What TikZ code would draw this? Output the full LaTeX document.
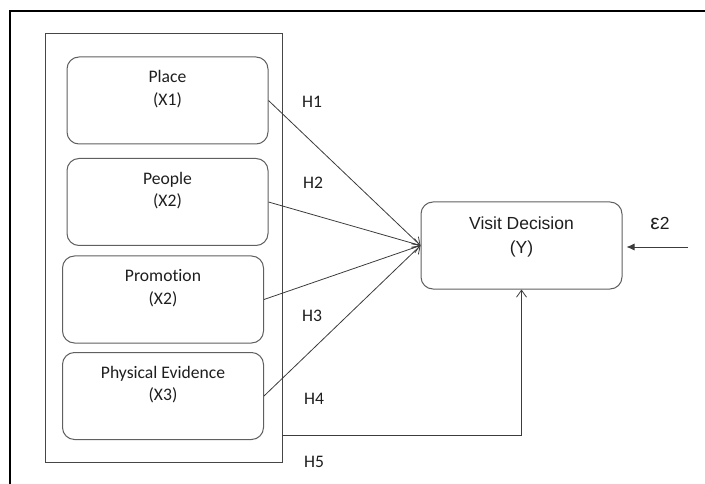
\documentclass[tikz,border=0pt]{standalone}
\usepackage{fontspec}
\setmainfont{Carlito}[Ligatures=NoCommon]
\newfontfamily\arialfont{Liberation Sans}
\usepackage{xcolor}
\definecolor{boxgray}{RGB}{96,96,96}
\definecolor{framegray}{RGB}{70,70,70}
\definecolor{linegray}{RGB}{60,60,60}
\definecolor{textgray}{RGB}{30,30,30}
\usetikzlibrary{arrows.meta,positioning}

\begin{document}
\begin{tikzpicture}[x=1pt, y=-1pt,
    varbox/.style={draw=boxgray, line width=1pt, rounded corners=12pt, minimum width=201pt, minimum height=87pt},
    boxtext/.style={anchor=north, align=center, inner sep=0pt, text=textgray, font=\fontsize{17.6}{22.5}\selectfont},
    vdtext/.style={anchor=north, align=center, inner sep=0pt, text=textgray, font=\arialfont\fontsize{17.5}{24}\selectfont},
    link/.style={-{Straight Barb[length=7pt,width=10pt]}, draw=linegray, line width=0.8pt},
    errlink/.style={-{Latex[length=8pt,width=7pt]}, draw=linegray, line width=0.8pt, shorten >=4pt},
    hlabel/.style={text=textgray, font=\fontsize{17.6}{21}\selectfont}
]
    \useasboundingbox (0,0) rectangle (705,484);

    % Outer frame
    \draw[line width=2pt] (705,11) -- (10,11) -- (10,484);

    % Group of variables
    \node[draw=framegray, line width=0.9pt, minimum width=237pt, minimum height=429pt] (grp) at (163.5,247.5) {};

    % Boxes
    \node[varbox, label={[boxtext, yshift=-14pt]north:{Place\\(X1)}}] (place) at (167.5,100.5) {};
    \node[varbox, label={[boxtext, yshift=-14pt]north:{People\\(X2)}}] (people) at (167.5,202) {};
    \node[varbox, label={[boxtext, yshift=-14pt]north:{Promotion\\(X2)}}] (promo) at (163,299.5) {};
    \node[varbox, label={[boxtext, yshift=-14pt]north:{Physical Evidence\\(X3)}}] (phys) at (163,396) {};
    \node[varbox, label={[vdtext, yshift=-15.5pt]north:{Visit Decision\\(Y)}}] (vd) at (521.5,245.5) {};

    % Paths
    \draw[link] (place.east) -- (vd.west);
    \draw[link] (people.east) -- (vd.west);
    \draw[link] (promo.east) -- (vd.west);
    \draw[link] (phys.east) -- (vd.west);
    \coordinate (h5start) at (282,435);
    \draw[link] (h5start) -| (vd.south);

    % Error term
    \coordinate (eps) at (688,247);
    \draw[errlink] (eps) -- (eps -| vd.east);
    \node[text=textgray, font=\arialfont\fontsize{17.5}{21}\selectfont] (epslabel) at (660,223) {{\fontsize{21}{21}\selectfont ε}2};

    % Hypothesis labels
    \node[hlabel] (h1) at (312,102) {H1};
    \node[hlabel] (h2) at (313,183) {H2};
    \node[hlabel] (h3) at (312,316) {H3};
    \node[hlabel] (h4) at (314,399) {H4};
    \node[hlabel] (h5) at (314,461.5) {H5};
\end{tikzpicture}
\end{document}
